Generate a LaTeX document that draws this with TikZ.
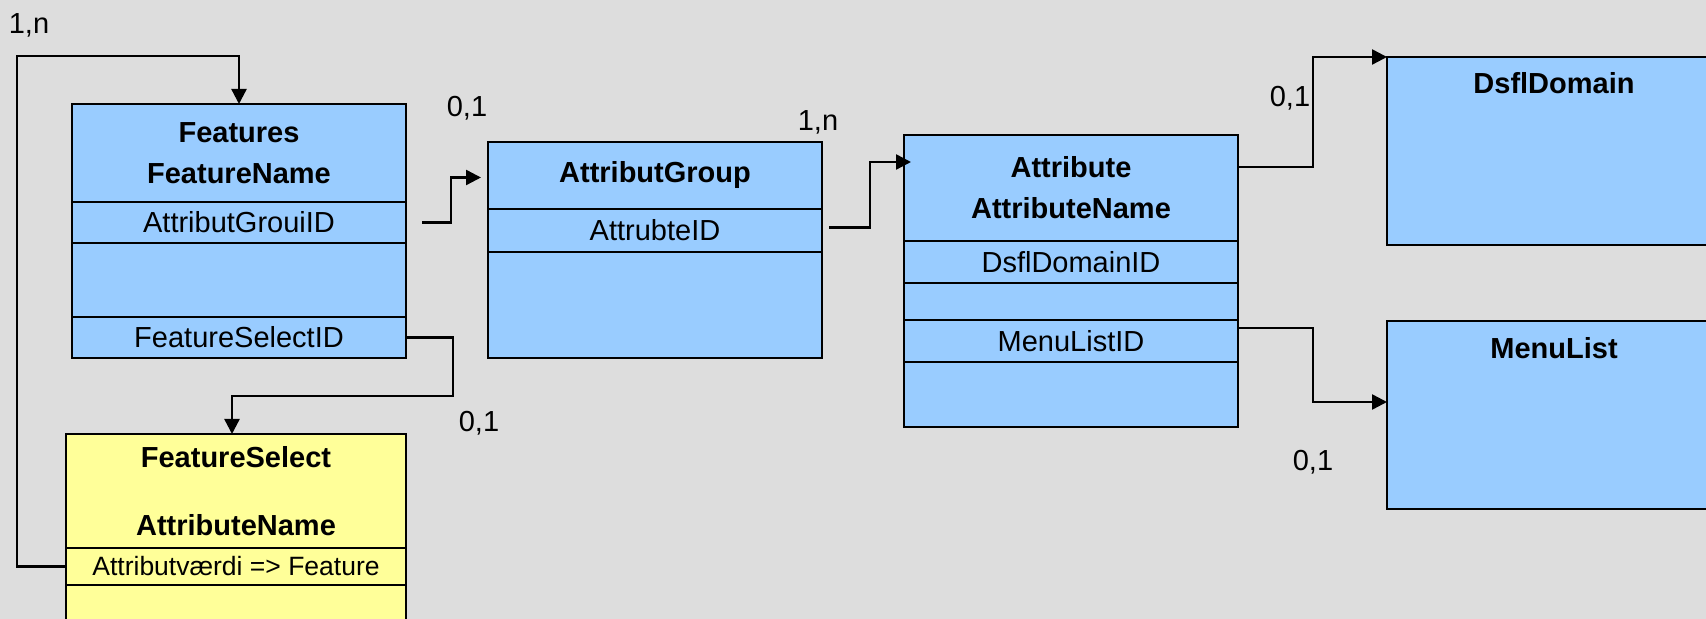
\documentclass[tikz,border=0pt]{standalone}
\usepackage{fontspec}
\setmainfont{Liberation Sans}
\usetikzlibrary{arrows.meta}

\definecolor{bg}{HTML}{DDDDDD}
\definecolor{entblue}{HTML}{99CCFF}
\definecolor{entyellow}{HTML}{FFFF99}

\tikzset{
  cell/.style={draw, line width=1.2pt, anchor=north west, inner sep=0pt, outer sep=0pt,
    minimum width=167pt, align=center, font=\fontsize{14.5}{20.5}\selectfont},
  blue cell/.style={cell, fill=entblue},
  yellow cell/.style={cell, fill=entyellow, minimum width=170pt},
  head/.style={font=\fontsize{14.5}{20.5}\selectfont\bfseries},
  conn/.style={line width=1.2pt, -{Triangle[length=7.5pt,width=7.5pt]}},
  card/.style={font=\fontsize{14.5}{17}\selectfont, inner sep=0pt},
}

\begin{document}
\begin{tikzpicture}[x=0.5pt,y=-0.5pt]
   \fill[bg] (0,0) rectangle (1706,619);
   \useasboundingbox (0,0) rectangle (1706,619);
   \clip (0,0) rectangle (1706,619);

   % Features
   \node[blue cell, head, minimum height=49pt] (feh) at (72,104) {Features\\FeatureName};
   \node[blue cell, minimum height=20.5pt] (fe1) at (feh.south west) {AttributGrouiID};
   \node[blue cell, minimum height=37pt] (fe2) at (fe1.south west) {};
   \node[blue cell, minimum height=20.5pt] (fe3) at (fe2.south west) {FeatureSelectID};

   % AttributGroup
   \node[blue cell, head, minimum height=33.5pt] (agh) at (488,142) {AttributGroup};
   \node[blue cell, minimum height=21.5pt] (ag1) at (agh.south west) {AttrubteID};
   \node[blue cell, minimum height=53pt] (ag2) at (ag1.south west) {};

   % Attribute
   \node[blue cell, head, minimum height=53pt] (ath) at (904,135) {Attribute\\AttributeName};
   \node[blue cell, minimum height=21pt] (at1) at (ath.south west) {DsflDomainID};
   \node[blue cell, minimum height=18.5pt] (at2) at (at1.south west) {};
   \node[blue cell, minimum height=21pt] (at3) at (at2.south west) {MenuListID};
   \node[blue cell, minimum height=32.5pt] (at4) at (at3.south west) {};

   % DsflDomain, MenuList
   \node[blue cell, minimum height=94pt,
     label={[head, anchor=center, inner sep=0pt, yshift=-13pt]north:DsflDomain}] (dd) at (1387,57) {};
   \node[blue cell, minimum height=94pt,
     label={[head, anchor=center, inner sep=0pt, yshift=-13.5pt]north:MenuList}] (ml) at (1387,321) {};

   % FeatureSelect
   \node[yellow cell, head, minimum height=57pt] (fsh) at (66,434) {FeatureSelect\\[13.5pt]AttributeName};
   \node[yellow cell, minimum height=18.5pt, font=\fontsize{13.25}{16}\selectfont] (fs1) at (fsh.south west) {Attributværdi => Feature};
   \node[yellow cell, minimum height=30pt] (fs2) at (fs1.south west) {};

   % connectors
   \coordinate (fsbend) at (453,396);
   \coordinate (loop) at (17,56);
   \draw[conn] ([xshift=8pt]fe1.east) -- ++(14.5pt,0) |- ([xshift=-3.5pt,yshift=-1pt]agh.west);
   \draw[conn] ([xshift=3.5pt,yshift=1.5pt]ag1.east) -- ++(20.5pt,0) |- ([xshift=3.5pt,yshift=13pt]ath.west);
   \draw[conn] ([yshift=10.5pt]ath.east) -- ++(37.5pt,0) |- (dd.north west);
   \draw[conn] ([yshift=6.5pt]at3.east) -- ++(37.5pt,0) |- ([yshift=6.5pt]ml.west);
   \draw[conn] (fe3.east) -| (fsbend) -| ([xshift=-2pt]fsh.north);
   \draw[conn] (fs1.west) -| (loop) -| (feh.north);

   % cardinalities
   \node[card] (c1) at (29,25) {1,n};
   \node[card] (c2) at (467,108) {0,1};
   \node[card] (c3) at (818,122) {1,n};
   \node[card] (c4) at (1290,98) {0,1};
   \node[card] (c5) at (1313,462) {0,1};
   \node[card] (c6) at (479,423) {0,1};
\end{tikzpicture}
\end{document}
